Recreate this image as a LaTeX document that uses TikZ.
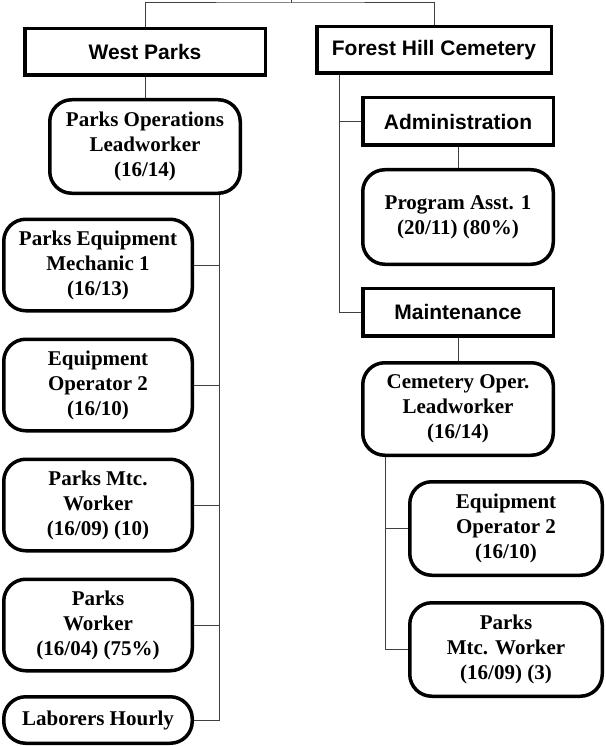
\documentclass[tikz,border=0pt]{standalone}
\usepackage{fontspec}
\setmainfont{Liberation Serif}
\newfontfamily\unitfont{Liberation Sans}
\usetikzlibrary{calc}

\begin{document}
\begin{tikzpicture}[x=1pt,y=-1pt,
    unit/.style={draw,line width=3.5pt,minimum height=46.5pt,inner sep=2pt,
      font=\unitfont\bfseries\fontsize{21}{24}\selectfont},
    job/.style={draw,line width=3.5pt,rounded corners=22pt,align=center,inner sep=1pt,
      font=\bfseries\fontsize{21}{25}\selectfont},
    link/.style={line width=1pt,black!75}]
      \useasboundingbox (0,0) rectangle (605,746);

      % unit boxes
      \node[unit,minimum width=240.5pt] (west) at (145,52) {West Parks};
      \node[unit,minimum width=234.5pt] (forest) at (434,50) {Forest Hill Cemetery};
      \node[unit,minimum width=190.5pt,minimum height=47.5pt] (admin) at (458,121.5) {Administration};
      \node[unit,minimum width=190.5pt,minimum height=47.5pt] (maint) at (458,312) {Maintenance};

      % West Parks positions
      \node[job,minimum width=190.5pt,minimum height=93.5pt] (ops) at (145,146.5) {Parks Operations\\Leadworker\\(16/14)};
      \node[job,minimum width=188.5pt,minimum height=91.5pt] (mech) at (98,265) {Parks Equipment\\Mechanic 1\\(16/13)};
      \node[job,minimum width=188.5pt,minimum height=91.5pt] (eqop) at (98,385) {Equipment\\Operator 2\\(16/10)};
      \node[job,minimum width=188.5pt,minimum height=91.5pt] (mtc) at (98,505) {Parks Mtc.\\Worker\\(16/09) (10)};
      \node[job,minimum width=188.5pt,minimum height=91.5pt] (pw) at (98,625) {Parks\\Worker\\(16/04) (75\%)};
      \node[job,minimum width=188.5pt,minimum height=46.5pt] (labor) at (98,720) {Laborers Hourly};

      % Forest Hill positions
      \node[job,minimum width=190.5pt,minimum height=94.5pt] (asst) at (458,217) {Program Asst. 1\\(20/11) (80\%)};
      \node[job,minimum width=190.5pt,minimum height=92.5pt] (cem) at (458,409) {Cemetery Oper.\\Leadworker\\(16/14)};
      \node[job,minimum width=192.5pt,minimum height=93.5pt] (eqopr) at (506,528.5) {Equipment\\Operator 2\\(16/10)};
      \node[job,minimum width=192.5pt,minimum height=93.5pt] (mtcr) at (506,649.5) {Parks\\Mtc. Worker\\(16/09) (3)};

      \coordinate (top) at (291,0);
      \coordinate (bar) at (291,3);
      \coordinate (wtrunk) at (219,0);
      \coordinate (ftrunk) at (339,0);
      \coordinate (rtrunk) at (385,0);

      \draw[link] (top) -- (bar);
      \draw[link] (west.north) |- (bar) -| (forest.north);

      \draw[link] (west.south) -- (ops.north);
      \draw[link] (ops.south -| wtrunk) |- (labor.east);
      \foreach \n in {mech,eqop,mtc,pw}
        \draw[link] (\n.east) -- (\n.east -| wtrunk);

      \draw[link] (forest.south -| ftrunk) |- (maint.west);
      \draw[link] (admin.west -| ftrunk) -- (admin.west);
      \draw[link] (admin.south) -- (asst.north);
      \draw[link] (maint.south) -- (cem.north);
      \draw[link] (cem.south -| rtrunk) |- (mtcr.west);
      \draw[link] (eqopr.west -| rtrunk) -- (eqopr.west);
\end{tikzpicture}
\end{document}
